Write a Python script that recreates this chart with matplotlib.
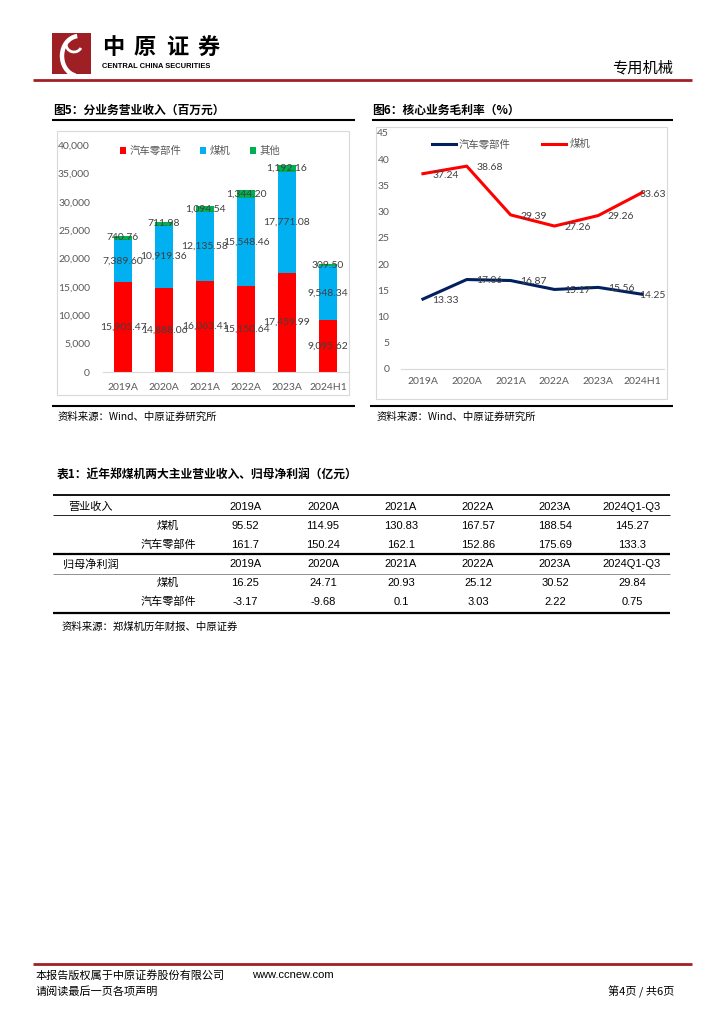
import numpy as np
import matplotlib
matplotlib.use('Agg')
import matplotlib.pyplot as plt
from matplotlib.lines import Line2D
from matplotlib.patches import Rectangle, Arc

# page size in pixels
W, H = 724, 1024
CJK = ['Noto Sans CJK SC', 'DejaVu Sans']
NUM = ['Lato', 'Noto Sans CJK SC']
ARIAL = ['Liberation Sans', 'Noto Sans CJK SC']

# 图5 data (百万元)
years = ['2019A', '2020A', '2021A', '2022A', '2023A', '2024H1']
auto_rev = [15905.47, 14888.06, 16063.41, 15150.64, 17459.99, 9095.62]
coal_rev = [7389.60, 10919.36, 12135.58, 15548.46, 17771.08, 9548.34]
other_rev = [740.76, 711.98, 1094.54, 1344.20, 1192.16, 309.50]

# 图6 data (%)
auto_margin = [13.33, 17.06, 16.87, 15.17, 15.56, 14.25]
coal_margin = [37.24, 38.68, 29.39, 27.26, 29.26, 33.63]

# 表1 data (亿元)
table_cols = ['2019A', '2020A', '2021A', '2022A', '2023A', '2024Q1-Q3']
rev_coal = ['95.52', '114.95', '130.83', '167.57', '188.54', '145.27']
rev_auto = ['161.7', '150.24', '162.1', '152.86', '175.69', '133.3']
np_coal = ['16.25', '24.71', '20.93', '25.12', '30.52', '29.84']
np_auto = ['-3.17', '-9.68', '0.1', '3.03', '2.22', '0.75']

fig = plt.figure(figsize=(W / 100, H / 100), dpi=100)


def fx(x):
    return x / W


def fy(y):
    return 1 - y / H


def hline(x1, x2, y, lw, color='black'):
    fig.add_artist(Line2D([fx(x1), fx(x2)], [fy(y), fy(y)], transform=fig.transFigure,
                          lw=lw, color=color, solid_capstyle='butt'))


def txt(x, y, s, size=8, family=CJK, **kw):
    fig.text(fx(x), fy(y), s, va='center', fontsize=size, family=family, **kw)


def axes_px(l, t, r, b):
    return fig.add_axes([fx(l), fy(b), (r - l) / W, (b - t) / H])


def frame(l, t, r, b):
    fig.add_artist(Rectangle((fx(l), fy(b)), (r - l) / W, (b - t) / H, transform=fig.transFigure,
                             fill=False, ec='#D9D9D9', lw=0.8))


# ---- header ----
logo = axes_px(52, 33, 91, 74)
logo.add_patch(Rectangle((0, 0), 39, 41, color='#9E1F24'))
logo.add_patch(Arc((27, 18), 34, 40, theta1=95, theta2=260, color='white', lw=3.2))
logo.add_patch(Arc((22, 30), 16, 16, theta1=180, theta2=330, color='white', lw=2))
logo.set_xlim(0, 39)
logo.set_ylim(0, 41)
logo.axis('off')
for i, ch in enumerate('中原证券'):
    txt(113 + i * 32, 48, ch, size=16, weight='bold', ha='center')
txt(102, 66, 'CENTRAL CHINA SECURITIES', size=5.4, family=ARIAL, weight='bold')
txt(612, 68, '专用机械', size=11)
hline(33, 692, 80, 2, '#A31F24')

# ---- 图5 ----
txt(53, 110, '图5：分业务营业收入（百万元）', size=8.5, weight='bold')
hline(52, 355, 120, 1.5)
frame(57, 131, 349, 395)
ax1 = axes_px(102.5, 145, 348.5, 372)
x = np.arange(len(years))
b1 = ax1.bar(x, auto_rev, 0.45, color='#FF0000', label='汽车零部件')
b2 = ax1.bar(x, coal_rev, 0.45, bottom=auto_rev, color='#00B0F0', label='煤机')
b3 = ax1.bar(x, other_rev, 0.45, bottom=np.add(auto_rev, coal_rev), color='#00B050', label='其他')
for bars, vals in [(b1, auto_rev), (b2, coal_rev), (b3, other_rev)]:
    ax1.bar_label(bars, labels=[f'{v:,.2f}' for v in vals], label_type='center',
                  fontsize=7.5, color='#404040', family=NUM)
ax1.set_xlim(-0.5, 5.5)
ax1.set_ylim(0, 40000)
yt = list(range(0, 40001, 5000))
ax1.set_yticks(yt, [f'{t:,}' for t in yt])
ax1.set_xticks(x, years)
for s in ['top', 'right', 'left']:
    ax1.spines[s].set_visible(False)
ax1.spines['bottom'].set_color('#D9D9D9')
ax1.tick_params(length=0, labelcolor='#595959', labelsize=7.5)
ax1.tick_params(axis='y', pad=9)
ax1.tick_params(axis='x', pad=8)
for lab in ax1.get_xticklabels() + ax1.get_yticklabels():
    lab.set_family(NUM)
ax1.legend(ncol=3, loc='center', bbox_to_anchor=(0.396, 0.974), frameon=False,
           handlelength=0.6, handleheight=0.6, handletextpad=0.35, columnspacing=1.8,
           prop={'family': CJK, 'size': 7.5}, labelcolor='#595959')
hline(52, 355, 406, 1.5)
txt(58, 417, '资料来源：Wind、中原证券研究所', size=7.5)

# ---- 图6 ----
txt(372, 110, '图6：核心业务毛利率（%）', size=8.5, weight='bold')
hline(372, 673, 120, 1.5)
frame(376, 127, 667, 399)
ax2 = axes_px(401, 133, 664, 369)
ax2.plot(x, auto_margin, color='#002060', lw=2.2, label='汽车零部件', solid_joinstyle='round')
ax2.plot(x, coal_margin, color='#FF0000', lw=2.2, label='煤机', solid_joinstyle='round')
for series in [auto_margin, coal_margin]:
    for i, v in enumerate(series):
        dx = -2 if i == len(series) - 1 else 7
        ax2.annotate(f'{v:.2f}', (i, v), xytext=(dx, -1), textcoords='offset points',
                     ha='left', va='center', fontsize=7.5, color='#404040', family=NUM)
ax2.set_xlim(-0.5, 5.5)
ax2.set_ylim(0, 45)
ax2.set_yticks(range(0, 46, 5))
ax2.set_xticks(x, years)
for s in ['top', 'right', 'left']:
    ax2.spines[s].set_visible(False)
ax2.spines['bottom'].set_color('#D9D9D9')
ax2.tick_params(length=0, labelcolor='#595959', labelsize=7.5)
ax2.tick_params(axis='y', pad=8.5)
ax2.tick_params(axis='x', pad=6)
for lab in ax2.get_xticklabels() + ax2.get_yticklabels():
    lab.set_family(NUM)
ax2.legend(ncol=2, loc='center', bbox_to_anchor=(0.418, 0.953), frameon=False,
           handlelength=2.3, handletextpad=0.3, columnspacing=3,
           prop={'family': CJK, 'size': 7.5}, labelcolor='#595959')
hline(370, 673, 406, 1.5)
txt(377, 417, '资料来源：Wind、中原证券研究所', size=7.5)

# ---- 表1 ----
txt(57, 475, '表1：近年郑煤机两大主业营业收入、归母净利润（亿元）', size=8.5, weight='bold')
col_x = [245, 323, 401, 478, 555, 632]
hline(53, 670, 495, 1.3)
hline(53, 670, 515, 0.6)
hline(53, 670, 554, 1.6)
hline(53, 670, 574, 0.6, '#7F7F7F')
hline(53, 670, 613, 1.6)
blocks = [('营业收入', 68, 507, rev_coal, rev_auto), ('归母净利润', 63, 564, np_coal, np_auto)]
for head, hx, y0, coal, auto in blocks:
    txt(hx, y0, head, size=8)
    txt(168, y0 + 19, '煤机', size=8, ha='center')
    txt(168, y0 + 38, '汽车零部件', size=8, ha='center')
    for cx, c, a, b in zip(col_x, table_cols, coal, auto):
        txt(cx, y0, c, size=8, family=ARIAL, ha='center')
        txt(cx, y0 + 19, a, size=8, family=ARIAL, ha='center')
        txt(cx, y0 + 38, b, size=8, family=ARIAL, ha='center')
txt(62, 627, '资料来源：郑煤机历年财报、中原证券', size=7.5)

# ---- footer ----
hline(33, 692, 964, 2, '#A31F24')
txt(36, 975, '本报告版权属于中原证券股份有限公司', size=8)
txt(252, 975, 'www.ccnew.com', size=8, family=ARIAL)
txt(36, 992, '请阅读最后一页各项声明', size=8)
txt(674, 992, '第4页 / 共6页', size=8, ha='right')

fig.savefig('out.png', dpi=100)
